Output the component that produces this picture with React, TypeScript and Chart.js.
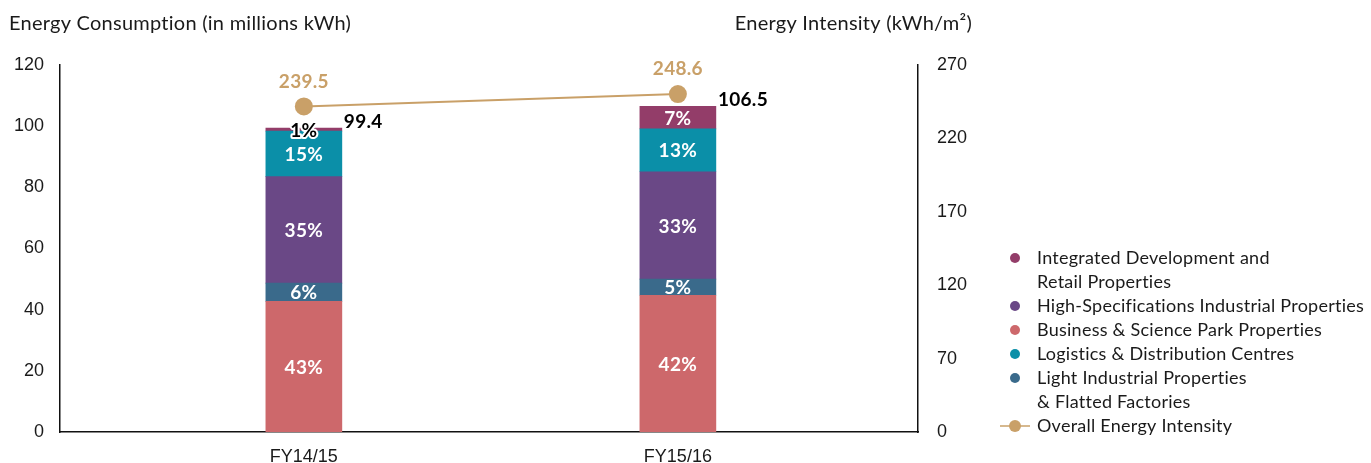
import React, { useEffect, useRef } from "react";
import { Chart, registerables } from "chart.js";
Chart.register(...registerables);

// ---- data ----
const categories = ["FY14/15", "FY15/16"];
const businessScience = [42.7, 44.7];
const lightIndustrial = [6.0, 5.3];
const highSpec = [34.8, 35.1];
const logistics = [14.9, 14.0];
const integrated = [1.0, 7.4];
const energyIntensity = [239.5, 248.6];
const rightTickLabels = ["0", "70", "120", "170", "220", "270"];

const barSeriesNames = [
  "Business & Science Park Properties",
  "Light Industrial Properties & Flatted Factories",
  "High-Specifications Industrial Properties",
  "Logistics & Distribution Centres",
  "Integrated Development and Retail Properties",
];
const lineSeriesName = "Overall Energy Intensity";
const leftTitle = "Energy Consumption (in millions kWh)";
const rightTitle = "Energy Intensity (kWh/m²)";

// legend (display order, wrapped lines)
const legendItems: { lines: string[]; series: number }[] = [
  { lines: ["Integrated Development and", "Retail Properties"], series: 4 },
  { lines: ["High-Specifications Industrial Properties"], series: 2 },
  { lines: ["Business & Science Park Properties"], series: 0 },
  { lines: ["Logistics & Distribution Centres"], series: 3 },
  { lines: ["Light Industrial Properties", "& Flatted Factories"], series: 1 },
  { lines: ["Overall Energy Intensity"], series: -1 },
];

// ---- styles ----
const barColors = ["#CD686B", "#3A6A8B", "#6A4886", "#0B8FA8", "#933D69"];
const lineColor = "#C9A068";
const textColor = "#1a1a1a";
const sansFont = "Lato, 'Noto Sans', sans-serif";
const tickFont = "'Liberation Sans', Arial, sans-serif";

const barValues = [businessScience, lightIndustrial, highSpec, logistics, integrated];

function setSpacing(ctx: any, v: string) {
  try {
    ctx.letterSpacing = v;
  } catch (e) {}
}

const labelPlugin = {
  id: "labels",
  afterDatasetsDraw(chart: any) {
    const ctx = chart.ctx as CanvasRenderingContext2D;
    ctx.save();
    setSpacing(ctx, "0.3px");
    const totals = categories.map((_, i) => barValues.reduce((s, arr) => s + arr[i], 0));
    // segment percentage labels
    barValues.forEach((vals, di) => {
      const meta = chart.getDatasetMeta(di + 1);
      meta.data.forEach((el: any, i: number) => {
        const { x, y, base } = el.getProps(["x", "y", "base"], true);
        const pct = Math.round((vals[i] / totals[i]) * 100) + "%";
        const cy = (y + base) / 2 + 1;
        const h = Math.abs(base - y);
        ctx.font = `bold 19px ${sansFont}`;
        ctx.textAlign = "center";
        ctx.textBaseline = "middle";
        if (h < 14) {
          ctx.lineWidth = 4;
          ctx.strokeStyle = "#ffffff";
          ctx.lineJoin = "round";
          ctx.strokeText(pct, x, cy);
          ctx.fillStyle = "#000";
          ctx.fillText(pct, x, cy);
        } else {
          ctx.fillStyle = "#ffffff";
          ctx.fillText(pct, x, cy);
        }
      });
    });
    // totals
    const topMeta = chart.getDatasetMeta(barValues.length);
    topMeta.data.forEach((el: any, i: number) => {
      const { x, y, width } = el.getProps(["x", "y", "width"], true);
      ctx.font = `bold 19px ${sansFont}`;
      ctx.textAlign = "left";
      ctx.textBaseline = "alphabetic";
      ctx.fillStyle = "#000";
      ctx.fillText(totals[i].toFixed(1), x + width / 2 + 2, y);
    });
    // line labels
    const lineMeta = chart.getDatasetMeta(0);
    lineMeta.data.forEach((el: any, i: number) => {
      const { x, y } = el.getProps(["x", "y"], true);
      ctx.font = `bold 19px ${sansFont}`;
      ctx.textAlign = "center";
      ctx.textBaseline = "middle";
      ctx.fillStyle = lineColor;
      ctx.fillText(energyIntensity[i].toFixed(1), x, y - 25);
    });
    ctx.restore();
  },
  afterDraw(chart: any) {
    const ctx = chart.ctx as CanvasRenderingContext2D;
    ctx.save();
    setSpacing(ctx, "0.25px");
    // titles
    ctx.font = `20px ${sansFont}`;
    ctx.fillStyle = textColor;
    ctx.textBaseline = "alphabetic";
    ctx.textAlign = "left";
    ctx.fillText(leftTitle, 9, 30);
    ctx.textAlign = "right";
    ctx.fillText(rightTitle, 972, 30);
    // legend
    ctx.font = `18px ${sansFont}`;
    ctx.textAlign = "left";
    ctx.textBaseline = "middle";
    let row = 0;
    const x0 = 1015;
    const y0 = 258;
    const lh = 24;
    legendItems.forEach((item) => {
      const yy = y0 + row * lh;
      if (item.series >= 0) {
        ctx.fillStyle = barColors[item.series];
        ctx.beginPath();
        ctx.arc(x0, yy, 5, 0, Math.PI * 2);
        ctx.fill();
      } else {
        ctx.strokeStyle = lineColor;
        ctx.lineWidth = 1.5;
        ctx.beginPath();
        ctx.moveTo(x0 - 15, yy);
        ctx.lineTo(x0 + 15, yy);
        ctx.stroke();
        ctx.fillStyle = lineColor;
        ctx.beginPath();
        ctx.arc(x0, yy, 6, 0, Math.PI * 2);
        ctx.fill();
      }
      ctx.fillStyle = textColor;
      item.lines.forEach((ln) => {
        ctx.fillText(ln, 1037, y0 + row * lh);
        row++;
      });
    });
    ctx.restore();
  },
};

export default function App() {
  const ref = useRef<HTMLCanvasElement>(null);
  useEffect(() => {
    const datasets: any[] = [
      {
        type: "line",
        label: lineSeriesName,
        data: energyIntensity.map((v, i) => ({ x: i, y: v })),
        yAxisID: "y2",
        xAxisID: "x",
        borderColor: lineColor,
        backgroundColor: lineColor,
        borderWidth: 2,
        pointRadius: 9,
        pointHoverRadius: 9,
        pointBackgroundColor: lineColor,
        pointBorderWidth: 0,
        order: 0,
      },
      ...barValues.map((vals, di) => ({
        type: "bar",
        label: barSeriesNames[di],
        data: vals.map((v, i) => ({ x: i, y: v })),
        backgroundColor: barColors[di],
        borderWidth: 0,
        barThickness: 76,
        yAxisID: "y",
        xAxisID: "x",
        stack: "s",
        order: 1,
      })),
    ];
    const chart = new Chart(ref.current!, {
      type: "bar",
      data: { datasets },
      options: {
        responsive: false,
        animation: false,
        events: [],
        layout: { padding: { top: 65, right: 393, bottom: 0, left: 0 } },
        plugins: { legend: { display: false }, tooltip: { enabled: false } },
        scales: {
          x: {
            type: "linear",
            min: -0.652,
            max: 1.642,
            offset: false,
            stacked: true,
            grid: { display: false, drawTicks: false, offset: false },
            border: { display: true, color: "#111", width: 1.5 },
            afterBuildTicks: (s: any) => {
              s.ticks = categories.map((_, i) => ({ value: i }));
            },
            afterFit: (s: any) => {
              s.height = 31;
            },
            ticks: {
              autoSkip: false,
              maxRotation: 0,
              padding: 14,
              color: textColor,
              font: { family: tickFont, size: 18 },
              callback: (v: any) => categories[Math.round(v)] ?? "",
            },
          },
          y: {
            position: "left",
            min: 0,
            max: 120,
            stacked: true,
            grid: { display: false, drawTicks: false },
            border: { display: true, color: "#111", width: 1.5 },
            afterFit: (s: any) => {
              s.width = 60;
            },
            ticks: {
              stepSize: 20,
              padding: 16,
              color: textColor,
              font: { family: tickFont, size: 18 },
            },
          },
          y2: {
            position: "right",
            min: 0,
            max: 270,
            grid: { display: false, drawTicks: false },
            border: { display: true, color: "#111", width: 1.5 },
            afterFit: (s: any) => {
              s.width = 60;
            },
            ticks: {
              stepSize: 270 / (rightTickLabels.length - 1),
              padding: 19,
              color: textColor,
              font: { family: tickFont, size: 18 },
              callback: (v: any) =>
                rightTickLabels[Math.round(Number(v) / (270 / (rightTickLabels.length - 1)))] ?? "",
            },
          },
        },
      } as any,
      plugins: [labelPlugin],
    } as any);
    return () => chart.destroy();
  }, []);
  return (
    <div style={{ position: "absolute", left: 0, top: 0, width: 1371, height: 463, background: "#fff" }}>
      <canvas ref={ref} width={1371} height={463} style={{ display: "block" }} />
    </div>
  );
}
